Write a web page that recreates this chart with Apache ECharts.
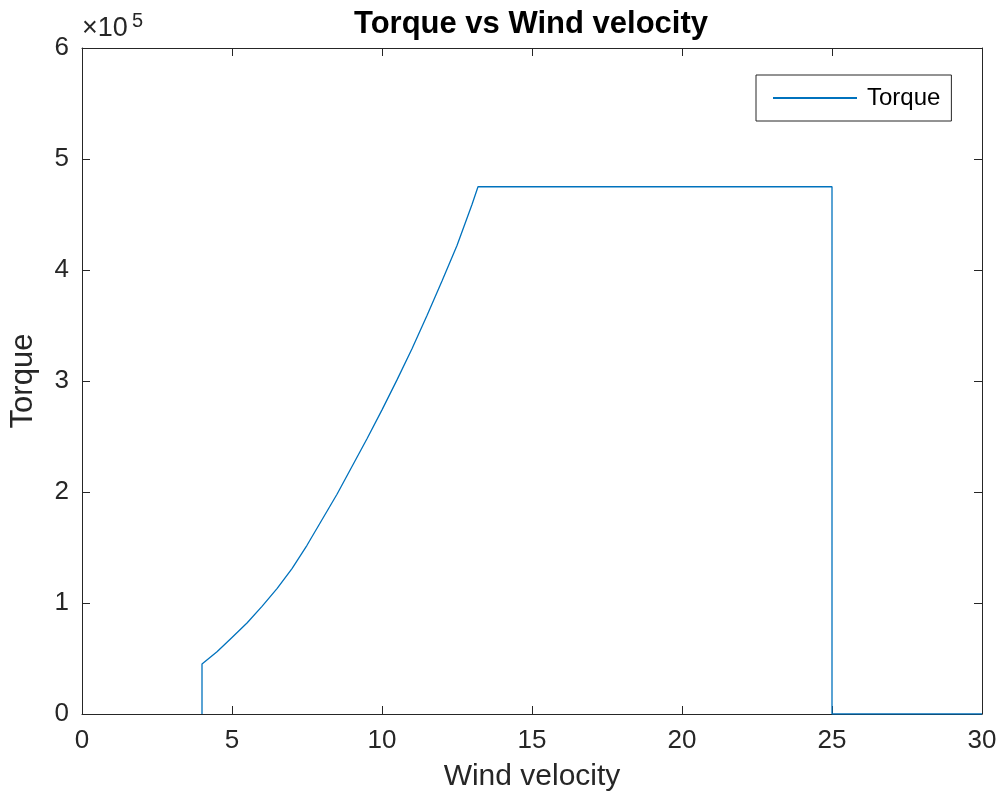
<!DOCTYPE html>
<html>
<head>
<meta charset="utf-8">
<script src="https://cdn.jsdelivr.net/npm/echarts@6/dist/echarts.min.js"></script>
<style>
  html, body { margin: 0; padding: 0; background: #fff; }
  #chart { width: 1003px; height: 808px; }
</style>
</head>
<body>
<div id="chart"></div>
<script>
// Wind speed (m/s) and rotor torque (N·m) along the operating curve
const velocity = [4, 4, 4.5, 5, 5.5, 6, 6.5, 7, 7.5, 8, 8.5, 9, 9.5, 10, 10.5, 11, 11.5, 12, 12.5, 13, 13.2, 25, 25, 30];
const torque = [0, 45000, 56000, 69000, 82000, 97000, 113000, 131000, 152000, 175000, 198000, 223000, 248000, 274000, 301000, 329000, 359000, 390000, 422000, 459000, 475000, 475000, 0, 0];

const xTicks = [0, 5, 10, 15, 20, 25, 30];
const yTicks = [0, 1, 2, 3, 4, 5, 6];   // in units of 10^5
const yScale = 1e5;

const FONT = '"Liberation Sans", Arial, Helvetica, sans-serif';
const AXIS = '#262626';
const LINE = '#0072BD';

const points = velocity.map((v, i) => [v, torque[i]]);

const chart = echarts.init(document.getElementById('chart'), null, { renderer: 'canvas' });

// shared look of the box axes: thin dark frame, short ticks pointing inward
const baseAxis = {
  axisLine: { show: true, onZero: false, lineStyle: { color: AXIS, width: 1 } },
  axisTick: { show: true, inside: true, length: 8, lineStyle: { color: AXIS, width: 1 } },
  splitLine: { show: false }
};

chart.setOption({
  animation: false,
  backgroundColor: '#fff',
  legend: {
    data: [{ name: 'Torque', icon: 'rect' }],
    left: 756,
    top: 75,
    orient: 'horizontal',
    itemWidth: 84,
    itemHeight: 2,
    padding: [11, 11, 11, 17],
    borderColor: AXIS,
    borderWidth: 1,
    backgroundColor: '#fff',
    textStyle: { fontFamily: FONT, fontSize: 24, color: '#000', padding: [0, 0, 0, 5] }
  },
  grid: { left: 81, right: 21, top: 48, bottom: 94, containLabel: false },
  xAxis: [
    Object.assign({}, baseAxis, {
      type: 'value', position: 'bottom',
      min: xTicks[0], max: xTicks[xTicks.length - 1], interval: 5,
      name: 'Wind velocity', nameLocation: 'middle', nameGap: 48,
      nameTextStyle: { fontFamily: FONT, fontSize: 30, color: AXIS },
      axisLabel: { fontFamily: FONT, fontSize: 26, color: AXIS, margin: 14 }
    }),
    Object.assign({}, baseAxis, {
      type: 'value', position: 'top',
      min: xTicks[0], max: xTicks[xTicks.length - 1], interval: 5,
      axisLabel: { show: false }
    })
  ],
  yAxis: [
    Object.assign({}, baseAxis, {
      type: 'value', position: 'left',
      min: yTicks[0] * yScale, max: yTicks[yTicks.length - 1] * yScale, interval: yScale,
      name: 'Torque', nameLocation: 'middle', nameGap: 43,
      nameTextStyle: { fontFamily: FONT, fontSize: 31, color: AXIS },
      axisLabel: {
        fontFamily: FONT, fontSize: 26, color: AXIS, margin: 13,
        formatter: v => String(Math.round(v / yScale))
      }
    }),
    Object.assign({}, baseAxis, {
      type: 'value', position: 'right',
      min: yTicks[0] * yScale, max: yTicks[yTicks.length - 1] * yScale, interval: yScale,
      axisLabel: { show: false }
    })
  ],
  graphic: [
    // title, centred over the plot box
    {
      type: 'text', x: 531, y: 9, z: 10,
      style: {
        text: 'Torque vs Wind velocity', align: 'center', verticalAlign: 'top',
        fontFamily: FONT, fontSize: 31, fontWeight: 'bold', fill: '#000'
      }
    },
    // exponent of the y-axis scale
    {
      type: 'text', left: 82, top: 15, z: 10,
      style: { text: '×10', fontFamily: FONT, fontSize: 27, fill: AXIS }
    },
    {
      type: 'text', left: 132, top: 11, z: 10,
      style: { text: '5', fontFamily: FONT, fontSize: 20, fill: AXIS }
    }
  ],
  series: [{
    name: 'Torque',
    type: 'line',
    xAxisIndex: 0,
    yAxisIndex: 0,
    data: points,
    showSymbol: false,
    symbol: 'none',
    smooth: false,
    lineStyle: { color: LINE, width: 1.3 },
    itemStyle: { color: LINE },
    z: 5
  }]
});
</script>
</body>
</html>
